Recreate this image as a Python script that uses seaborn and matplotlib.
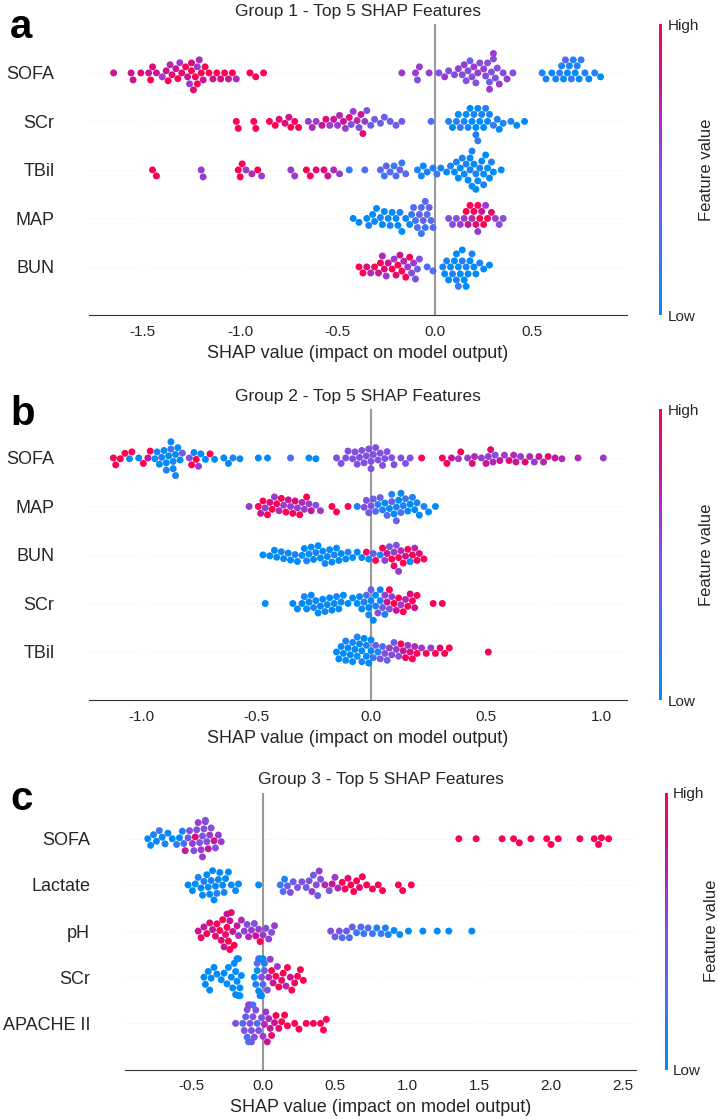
import pandas as pd
import matplotlib
matplotlib.use("Agg")
import matplotlib.pyplot as plt
import seaborn as sns
from matplotlib.colors import LinearSegmentedColormap, Normalize
from matplotlib.cm import ScalarMappable

sns.set_style("white")
plt.rcParams['font.family'] = ['Liberation Sans', 'DejaVu Sans']
plt.rcParams['axes.unicode_minus'] = False
plt.rcParams['text.color'] = '#262626'
plt.rcParams['xtick.color'] = '#262626'
plt.rcParams['ytick.color'] = '#262626'

# each point: (SHAP value, feature value scaled 0 = low .. 10 = high)

# ---- Group 1 ----
g1_features = ["SOFA", "SCr", "TBil", "MAP", "BUN"]
g1_sofa = [
    (-1.65, 8), (-1.56, 8), (-1.55, 8), (-1.51, 9), (-1.47, 8), (-1.46, 10), (-1.45, 9), (-1.43, 8),
    (-1.40, 6), (-1.38, 8), (-1.37, 10), (-1.36, 7), (-1.35, 9), (-1.33, 8), (-1.32, 10), (-1.31, 6), (-1.30, 9),
    (-1.28, 10), (-1.27, 8), (-1.26, 6), (-1.25, 10), (-1.25, 9), (-1.24, 9), (-1.23, 10), (-1.22, 6), (-1.22, 10),
    (-1.21, 7), (-1.20, 10), (-1.19, 8), (-1.18, 10),
    (-1.16, 10), (-1.14, 8), (-1.12, 10), (-1.10, 9), (-1.08, 10), (-1.06, 8), (-1.04, 10), (-1.02, 7),
    (-0.95, 10), (-0.92, 10), (-0.88, 10),
    (-0.17, 6), (-0.10, 6), (-0.09, 5), (-0.08, 6), (-0.03, 6), (0.02, 5), (0.05, 6), (0.07, 5),
    (0.10, 5), (0.12, 6), (0.14, 5), (0.15, 6), (0.16, 5), (0.17, 5), (0.18, 4), (0.19, 5), (0.20, 6), (0.21, 5),
    (0.22, 6), (0.23, 5), (0.25, 6), (0.26, 5), (0.27, 5), (0.28, 4), (0.28, 6), (0.29, 5), (0.30, 5), (0.30, 6),
    (0.31, 5), (0.32, 5), (0.33, 6), (0.35, 5), (0.37, 6), (0.40, 5),
    (0.55, 1), (0.57, 1), (0.60, 0), (0.62, 1), (0.64, 2), (0.65, 1), (0.66, 0), (0.67, 3), (0.68, 0), (0.69, 1),
    (0.70, 2), (0.71, 1), (0.72, 0), (0.73, 1), (0.74, 0), (0.75, 2), (0.77, 1), (0.79, 0), (0.82, 1), (0.85, 0),
]
g1_scr = [
    (-1.02, 10), (-1.01, 10), (-0.93, 10), (-0.92, 10), (-0.85, 10), (-0.82, 10), (-0.80, 9), (-0.77, 9),
    (-0.75, 8), (-0.74, 10), (-0.72, 10), (-0.70, 10),
    (-0.65, 6), (-0.63, 7), (-0.61, 6), (-0.58, 8), (-0.56, 9),
    (-0.54, 6), (-0.52, 8), (-0.50, 6), (-0.49, 7), (-0.47, 8), (-0.46, 6), (-0.44, 9), (-0.43, 5), (-0.42, 6),
    (-0.40, 7), (-0.39, 5), (-0.38, 8), (-0.37, 9), (-0.36, 6), (-0.35, 5),
    (-0.33, 4), (-0.31, 4), (-0.28, 4), (-0.26, 4), (-0.23, 4), (-0.20, 4), (-0.17, 4), (-0.02, 3),
    (0.07, 1), (0.09, 0), (0.11, 1), (0.12, 0), (0.13, 2), (0.15, 1), (0.16, 0), (0.17, 1), (0.18, 0), (0.19, 0),
    (0.20, 1), (0.21, 0), (0.21, 1), (0.22, 0), (0.22, 2), (0.23, 0), (0.24, 1), (0.25, 0), (0.26, 1), (0.27, 0),
    (0.28, 1), (0.30, 2), (0.32, 1), (0.33, 0), (0.35, 1), (0.39, 1), (0.42, 0), (0.46, 0),
]
g1_tbil = [
    (-1.45, 10), (-1.43, 10), (-1.20, 6), (-1.19, 6), (-1.01, 10), (-1.00, 10), (-0.99, 10), (-0.97, 6),
    (-0.94, 7), (-0.91, 10), (-0.89, 6), (-0.74, 6), (-0.72, 6), (-0.66, 10), (-0.64, 10), (-0.61, 9),
    (-0.57, 9), (-0.55, 8), (-0.52, 7), (-0.49, 6), (-0.44, 2), (-0.36, 3),
    (-0.28, 3), (-0.26, 2), (-0.25, 4), (-0.23, 3), (-0.21, 2), (-0.20, 3), (-0.18, 4), (-0.17, 2), (-0.15, 3),
    (-0.09, 1), (-0.07, 1), (-0.06, 0), (-0.04, 1), (-0.01, 1), (0.01, 2), (0.03, 1),
    (0.06, 0), (0.08, 1), (0.10, 0), (0.11, 1), (0.12, 0), (0.13, 0), (0.14, 1), (0.15, 0), (0.16, 1), (0.17, 0),
    (0.18, 1), (0.18, 0), (0.19, 0), (0.19, 1), (0.20, 0), (0.21, 1), (0.21, 0), (0.22, 0), (0.23, 1), (0.24, 0),
    (0.25, 0), (0.25, 1), (0.26, 0), (0.27, 0), (0.28, 0), (0.29, 1), (0.30, 0), (0.34, 0),
]
g1_map = [
    (-0.42, 0), (-0.39, 0), (-0.35, 0), (-0.34, 1), (-0.32, 0), (-0.31, 0), (-0.30, 0), (-0.28, 1), (-0.27, 0),
    (-0.26, 0), (-0.24, 0), (-0.23, 1), (-0.22, 0), (-0.20, 0), (-0.19, 0), (-0.18, 1), (-0.17, 0), (-0.15, 0),
    (-0.13, 0),
    (-0.12, 2), (-0.11, 3), (-0.10, 2), (-0.09, 3), (-0.08, 4), (-0.07, 3), (-0.07, 2), (-0.06, 4), (-0.05, 2),
    (-0.05, 3), (-0.04, 3), (-0.03, 4), (-0.02, 3), (-0.01, 3),
    (0.07, 5), (0.09, 5), (0.11, 5), (0.13, 6),
    (0.15, 6), (0.16, 10), (0.17, 8), (0.18, 10), (0.19, 7), (0.20, 10), (0.21, 9), (0.22, 10), (0.22, 6),
    (0.23, 10), (0.24, 8), (0.25, 10), (0.26, 6), (0.27, 10), (0.29, 9), (0.31, 6), (0.33, 5), (0.35, 5),
]
g1_bun = [
    (-0.39, 10), (-0.37, 10), (-0.35, 9), (-0.33, 7), (-0.31, 10), (-0.29, 8), (-0.28, 10), (-0.27, 7),
    (-0.26, 9), (-0.25, 6), (-0.24, 8), (-0.22, 10), (-0.21, 6), (-0.20, 9), (-0.19, 10), (-0.18, 8),
    (-0.17, 10), (-0.16, 7), (-0.15, 10), (-0.14, 6), (-0.13, 10), (-0.12, 5), (-0.11, 6), (-0.10, 5),
    (-0.09, 4), (-0.08, 5),
    (-0.04, 3), (-0.01, 3),
    (0.04, 1), (0.05, 0), (0.06, 1), (0.07, 0), (0.08, 0), (0.09, 1), (0.10, 0), (0.11, 1), (0.11, 0), (0.12, 0),
    (0.12, 2), (0.13, 0), (0.14, 1), (0.14, 0), (0.15, 0), (0.16, 1), (0.16, 0), (0.17, 0), (0.18, 0), (0.19, 1),
    (0.20, 0), (0.21, 0), (0.23, 1), (0.25, 0), (0.28, 0),
]

# ---- Group 2 ----
g2_features = ["SOFA", "MAP", "BUN", "SCr", "TBil"]
g2_sofa = [
    (-1.12, 10), (-1.11, 10), (-1.09, 10), (-1.07, 10), (-1.05, 0), (-1.04, 10), (-1.01, 0), (-0.99, 10),
    (-0.97, 8), (-0.96, 10), (-0.94, 0), (-0.93, 1),
    (-0.92, 0), (-0.91, 1), (-0.90, 0), (-0.89, 0), (-0.89, 1), (-0.88, 0), (-0.87, 3), (-0.87, 0), (-0.86, 1),
    (-0.86, 0), (-0.85, 0), (-0.85, 1), (-0.84, 0), (-0.83, 0), (-0.82, 4),
    (-0.79, 5), (-0.78, 10), (-0.77, 0), (-0.76, 10), (-0.75, 6), (-0.74, 0), (-0.72, 0), (-0.70, 10), (-0.68, 0),
    (-0.64, 0), (-0.62, 0), (-0.60, 1), (-0.57, 0), (-0.49, 0), (-0.45, 0), (-0.35, 3), (-0.27, 0), (-0.24, 0),
    (-0.15, 5), (-0.13, 5), (-0.11, 5), (-0.10, 5), (-0.08, 5), (-0.07, 5), (-0.06, 5), (-0.05, 5), (-0.04, 5),
    (-0.03, 5), (-0.02, 5), (-0.01, 5), (0.00, 5), (0.00, 5), (0.01, 5), (0.02, 5), (0.03, 5), (0.04, 5),
    (0.05, 5), (0.06, 5), (0.07, 5), (0.09, 5), (0.10, 5), (0.13, 5), (0.15, 5), (0.17, 5),
    (0.22, 10),
    (0.31, 10), (0.33, 10), (0.35, 8), (0.38, 6), (0.39, 10), (0.42, 6), (0.44, 9), (0.45, 7), (0.48, 6),
    (0.50, 8), (0.51, 6), (0.52, 9), (0.53, 7), (0.54, 5), (0.56, 8), (0.58, 6), (0.60, 9), (0.62, 7), (0.63, 8),
    (0.65, 6), (0.67, 9), (0.69, 7), (0.71, 6), (0.73, 8), (0.75, 7), (0.77, 9), (0.80, 8), (0.83, 7), (0.90, 7),
    (1.01, 6),
]
g2_map = [
    (-0.53, 6), (-0.49, 10), (-0.48, 8), (-0.47, 10), (-0.46, 6), (-0.45, 10), (-0.44, 9), (-0.43, 10),
    (-0.42, 6), (-0.41, 10), (-0.40, 7), (-0.39, 10), (-0.38, 6), (-0.37, 10), (-0.36, 8), (-0.35, 6),
    (-0.34, 10), (-0.33, 9), (-0.32, 6), (-0.31, 10), (-0.30, 7), (-0.29, 6), (-0.28, 10), (-0.27, 6),
    (-0.26, 8), (-0.24, 5), (-0.22, 6),
    (-0.17, 10), (-0.15, 10), (-0.10, 10), (-0.06, 1), (-0.03, 5), (-0.02, 5), (-0.01, 4), (0.00, 5), (0.01, 4),
    (0.02, 3),
    (0.03, 1), (0.04, 4), (0.05, 1), (0.06, 0), (0.07, 3), (0.08, 0), (0.09, 4), (0.09, 1), (0.10, 0), (0.11, 1),
    (0.11, 4), (0.12, 0), (0.13, 3), (0.13, 0), (0.14, 1), (0.15, 2), (0.16, 0), (0.17, 0), (0.18, 1), (0.19, 0),
    (0.20, 1), (0.21, 0), (0.23, 1), (0.25, 0), (0.28, 0),
]
g2_bun = [
    (-0.47, 0), (-0.44, 0), (-0.42, 0), (-0.41, 0), (-0.39, 1), (-0.38, 0), (-0.36, 0), (-0.35, 0), (-0.33, 1),
    (-0.32, 0), (-0.30, 0), (-0.29, 0), (-0.28, 1), (-0.27, 0), (-0.26, 0), (-0.25, 0), (-0.24, 1), (-0.23, 0),
    (-0.22, 0), (-0.21, 0), (-0.20, 1), (-0.19, 0), (-0.18, 0), (-0.17, 0), (-0.16, 1), (-0.15, 0), (-0.14, 0),
    (-0.13, 0), (-0.11, 0), (-0.10, 1), (-0.08, 0), (-0.06, 0), (-0.04, 0),
    (-0.02, 10), (-0.01, 0), (0.01, 4), (0.02, 10), (0.04, 1), (0.05, 10), (0.06, 6), (0.07, 8), (0.08, 5),
    (0.09, 10), (0.10, 6), (0.10, 9), (0.11, 5), (0.12, 10), (0.12, 6), (0.13, 7), (0.14, 10), (0.15, 8),
    (0.16, 10), (0.17, 0), (0.18, 10), (0.19, 7), (0.20, 10), (0.21, 9), (0.23, 10),
]
g2_scr = [
    (-0.46, 0), (-0.34, 0), (-0.32, 0), (-0.30, 0), (-0.29, 1), (-0.28, 0), (-0.27, 0), (-0.26, 0), (-0.25, 1),
    (-0.24, 0), (-0.23, 0), (-0.22, 0), (-0.21, 0), (-0.20, 1), (-0.19, 0), (-0.18, 0), (-0.17, 0), (-0.16, 0),
    (-0.15, 1), (-0.14, 0), (-0.13, 0), (-0.12, 0), (-0.10, 0), (-0.08, 0), (-0.06, 0), (-0.05, 0),
    (-0.04, 0), (-0.03, 1), (-0.02, 3), (-0.01, 0), (-0.01, 1), (0.00, 0), (0.00, 4), (0.01, 0), (0.02, 1),
    (0.02, 0), (0.03, 5), (0.04, 1), (0.04, 0), (0.05, 4), (0.06, 6), (0.06, 1), (0.07, 8), (0.08, 5), (0.08, 10),
    (0.09, 6),
    (0.10, 10), (0.11, 8), (0.12, 10), (0.13, 6), (0.14, 10), (0.15, 7), (0.16, 10), (0.17, 9), (0.18, 10),
    (0.19, 8), (0.20, 10), (0.27, 10), (0.31, 10),
]
g2_tbil = [
    (-0.15, 0), (-0.14, 0), (-0.13, 0), (-0.12, 0), (-0.11, 0), (-0.11, 1), (-0.10, 0), (-0.09, 0), (-0.08, 1),
    (-0.08, 0), (-0.07, 0), (-0.06, 0), (-0.06, 1), (-0.05, 0), (-0.04, 0), (-0.04, 1), (-0.03, 0), (-0.02, 0),
    (-0.02, 1), (-0.01, 0), (0.00, 0), (0.00, 0),
    (0.01, 2), (0.02, 4), (0.03, 1), (0.04, 5), (0.05, 3), (0.06, 5), (0.07, 4), (0.08, 6), (0.09, 5), (0.10, 4),
    (0.11, 6), (0.12, 5),
    (0.13, 10), (0.14, 8), (0.15, 10), (0.16, 6), (0.17, 9), (0.18, 10), (0.19, 7), (0.20, 10),
    (0.22, 6), (0.24, 10), (0.26, 6), (0.28, 10), (0.30, 9), (0.32, 10), (0.34, 10), (0.51, 10),
]

# ---- Group 3 ----
g3_features = ["SOFA", "Lactate", "pH", "SCr", "APACHE II"]
g3_sofa = [
    (-0.80, 0), (-0.78, 0), (-0.76, 1), (-0.74, 0), (-0.72, 2), (-0.70, 0), (-0.68, 1), (-0.66, 0), (-0.63, 0),
    (-0.60, 2), (-0.58, 0), (-0.56, 1),
    (-0.55, 3), (-0.54, 8), (-0.52, 4), (-0.51, 5), (-0.49, 6), (-0.48, 5), (-0.47, 9), (-0.46, 5), (-0.45, 6),
    (-0.44, 5), (-0.43, 6), (-0.42, 5), (-0.42, 6), (-0.41, 5), (-0.40, 6), (-0.40, 5), (-0.39, 5), (-0.38, 8),
    (-0.37, 6), (-0.36, 5), (-0.34, 8), (-0.33, 5), (-0.31, 6), (-0.29, 6),
    (1.36, 10), (1.48, 10), (1.66, 10), (1.74, 10), (1.78, 10), (1.86, 10), (1.97, 10), (2.00, 10), (2.05, 10),
    (2.20, 10), (2.30, 10), (2.33, 10), (2.35, 10), (2.40, 10),
]
g3_lactate = [
    (-0.52, 0), (-0.49, 0), (-0.47, 0), (-0.45, 1), (-0.43, 0), (-0.42, 0), (-0.41, 1), (-0.39, 0), (-0.38, 0),
    (-0.37, 0), (-0.36, 1), (-0.35, 0), (-0.34, 0), (-0.33, 0), (-0.32, 1), (-0.31, 0), (-0.30, 0), (-0.28, 0),
    (-0.27, 1), (-0.26, 0), (-0.24, 0), (-0.22, 0), (-0.19, 0), (-0.17, 0),
    (-0.03, 0),
    (0.12, 2), (0.14, 3), (0.15, 1), (0.17, 4), (0.19, 5), (0.21, 4), (0.24, 5), (0.27, 5), (0.30, 4), (0.32, 5),
    (0.34, 6), (0.35, 4), (0.37, 5), (0.38, 4), (0.39, 6), (0.40, 5), (0.43, 7), (0.46, 5), (0.48, 8), (0.50, 6),
    (0.52, 7),
    (0.55, 10), (0.57, 10), (0.59, 9), (0.61, 10), (0.63, 10), (0.65, 10), (0.67, 9), (0.69, 10), (0.72, 10),
    (0.76, 10), (0.80, 10), (0.83, 10), (0.94, 10), (0.97, 10), (1.03, 10),
]
g3_ph = [
    (-0.45, 8), (-0.43, 9), (-0.41, 8), (-0.39, 10), (-0.37, 9), (-0.35, 8), (-0.33, 9), (-0.32, 10), (-0.30, 10),
    (-0.29, 9), (-0.28, 10), (-0.27, 8), (-0.26, 9), (-0.25, 10), (-0.25, 8), (-0.24, 10), (-0.23, 8),
    (-0.23, 10), (-0.22, 9), (-0.21, 8), (-0.20, 10), (-0.18, 8),
    (-0.17, 6), (-0.15, 7), (-0.13, 6), (-0.11, 5), (-0.10, 7), (-0.08, 6), (-0.06, 5), (-0.05, 8), (-0.03, 6),
    (-0.02, 10), (0.00, 6), (0.02, 5), (0.04, 6), (0.06, 5), (0.08, 6),
    (0.47, 5), (0.50, 4), (0.53, 5), (0.55, 3), (0.58, 4), (0.60, 3), (0.62, 4), (0.65, 2), (0.68, 3), (0.70, 2),
    (0.73, 3), (0.76, 2), (0.79, 1), (0.82, 2), (0.85, 1), (0.87, 1),
    (0.91, 0), (0.95, 0), (1.01, 0), (1.11, 0), (1.21, 0), (1.29, 0), (1.45, 0),
]
g3_scr = [
    (-0.41, 0), (-0.40, 0), (-0.38, 0), (-0.37, 0), (-0.36, 0), (-0.34, 0), (-0.32, 0),
    (-0.29, 0), (-0.27, 0), (-0.25, 0), (-0.24, 0),
    (-0.22, 0), (-0.21, 0), (-0.20, 0), (-0.19, 0), (-0.19, 0), (-0.18, 0), (-0.18, 0), (-0.17, 0), (-0.17, 0),
    (-0.16, 0), (-0.16, 0), (-0.15, 0),
    (-0.06, 0), (-0.05, 1), (-0.04, 0), (-0.04, 3), (-0.03, 0), (-0.03, 4), (-0.02, 1), (-0.02, 0), (-0.01, 5),
    (-0.01, 0), (0.00, 3), (0.00, 0), (0.01, 4), (0.01, 1),
    (0.03, 5), (0.04, 7), (0.05, 6), (0.06, 10), (0.07, 8), (0.09, 10), (0.10, 6), (0.11, 10), (0.13, 9),
    (0.14, 10), (0.16, 7), (0.17, 10), (0.19, 8), (0.20, 10), (0.22, 9), (0.24, 10), (0.26, 10), (0.28, 10),
]
g3_apache = [
    (-0.19, 5), (-0.14, 3), (-0.13, 5), (-0.12, 4), (-0.11, 5), (-0.11, 3), (-0.10, 5), (-0.10, 2), (-0.09, 5),
    (-0.09, 6), (-0.08, 5), (-0.08, 4), (-0.07, 5), (-0.07, 3), (-0.06, 5), (-0.05, 5), (-0.04, 3), (-0.03, 5),
    (-0.01, 5), (0.00, 6),
    (0.01, 7), (0.02, 6), (0.03, 8), (0.04, 7), (0.05, 8), (0.06, 9), (0.08, 8), (0.09, 10), (0.11, 9),
    (0.13, 10), (0.15, 10), (0.17, 10),
    (0.22, 10), (0.25, 10), (0.30, 10), (0.35, 10), (0.40, 10), (0.42, 10), (0.44, 10),
]

# shap-like blue -> purple -> red colormap
shap_cmap = LinearSegmentedColormap.from_list("shap_red_blue", [
    (0.0, "#008bfb"), (0.25, "#4673f5"), (0.5, "#8250e1"),
    (0.65, "#a532c3"), (0.8, "#c81496"), (1.0, "#ff0052"),
])


def draw_panel(fig, ax_rect, cb_rect, features, rows, title, letter, letter_y, xlim):
    ax = fig.add_axes(ax_rect)
    cax = fig.add_axes(cb_rect)
    frames = [pd.DataFrame(pts, columns=["shap", "value"]).assign(feature=name)
              for name, pts in zip(features, rows)]
    df = pd.concat(frames, ignore_index=True)

    for i in range(len(features)):
        ax.axhline(i, color="#cccccc", lw=0.5, dashes=(1, 5), zorder=-1)
    ax.axvline(0, color="#999999", lw=1.5, zorder=-1)

    sns.swarmplot(data=df, x="shap", y="feature", hue="value", order=features, orient="h",
                  palette=shap_cmap, hue_norm=(0, 10), size=5, linewidth=0, legend=False,
                  warn_thresh=1, ax=ax)

    ax.set_xlim(*xlim)
    ax.set_ylim(len(features), -1)
    for side in ["top", "right", "left"]:
        ax.spines[side].set_visible(False)
    ax.spines["bottom"].set_color("#333333")
    ax.tick_params(axis="y", length=0, pad=25, labelsize=13)
    ax.tick_params(axis="x", labelsize=11, color="#333333")
    ax.set_ylabel("")
    ax.set_xlabel("SHAP value (impact on model output)", fontsize=13)
    ax.set_title(title, fontsize=12.5)

    sm = ScalarMappable(norm=Normalize(0, 10), cmap=shap_cmap)
    cb = fig.colorbar(sm, cax=cax, ticks=[0, 10])
    cb.set_ticklabels(["Low", "High"])
    cb.ax.tick_params(labelsize=11, length=0)
    cb.set_label("Feature value", size=12, labelpad=0)
    cb.outline.set_visible(False)

    fig.text(10 / 718, letter_y, letter, fontsize=29, fontweight="bold", va="baseline", color="black")


fig = plt.figure(figsize=(7.18, 11.19), dpi=100)

draw_panel(fig, [0.1240, 0.7181, 0.7493, 0.2601], [0.9185, 0.7181, 0.0042, 0.2601],
           g1_features, [g1_sofa, g1_scr, g1_tbil, g1_map, g1_bun],
           "Group 1 - Top 5 SHAP Features", "a", 1 - 38 / 1119, (-1.776, 0.986))
draw_panel(fig, [0.1240, 0.3740, 0.7493, 0.2601], [0.9185, 0.3740, 0.0042, 0.2601],
           g2_features, [g2_sofa, g2_map, g2_bun, g2_scr, g2_tbil],
           "Group 2 - Top 5 SHAP Features", "b", 1 - 425 / 1119, (-1.226, 1.113))
draw_panel(fig, [0.1741, 0.0442, 0.7117, 0.2475], [0.9255, 0.0442, 0.0042, 0.2475],
           g3_features, [g3_sofa, g3_lactate, g3_ph, g3_scr, g3_apache],
           "Group 3 - Top 5 SHAP Features", "c", 1 - 810 / 1119, (-0.958, 2.59))

fig.savefig("out.png", dpi=100)
